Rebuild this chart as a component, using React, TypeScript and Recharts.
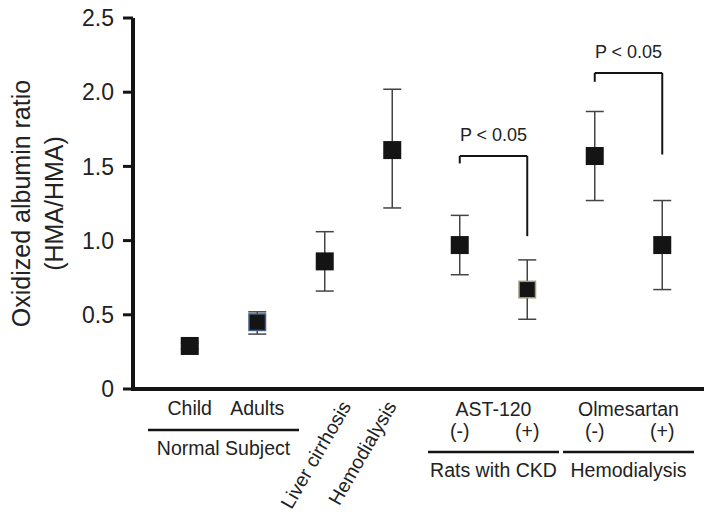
import React from "react";
import {
  ScatterChart,
  Scatter,
  XAxis,
  YAxis,
  ErrorBar,
  ReferenceLine,
} from "recharts";

// values (mean, lower / upper error)
const categories = [
  "Child",
  "Adults",
  "Liver cirrhosis",
  "Hemodialysis",
  "AST-120 (-)",
  "AST-120 (+)",
  "Olmesartan (-)",
  "Olmesartan (+)",
];
const tickLabels = [
  "Child",
  "Adults",
  "Liver cirrhosis",
  "Hemodialysis",
  "(-)",
  "(+)",
  "(-)",
  "(+)",
];
const means = [0.29, 0.45, 0.86, 1.61, 0.97, 0.67, 1.57, 0.97];
const errLow = [0.02, 0.08, 0.2, 0.39, 0.2, 0.2, 0.3, 0.3];
const errHigh = [0.02, 0.07, 0.2, 0.41, 0.2, 0.2, 0.3, 0.3];
const yTicks = [0, 0.5, 1, 1.5, 2, 2.5];

const groups = [
  { name: "Normal Subject", header: "", members: ["Child", "Adults"] },
  { name: "Rats with CKD", header: "AST-120", members: ["AST-120 (-)", "AST-120 (+)"] },
  { name: "Hemodialysis", header: "Olmesartan", members: ["Olmesartan (-)", "Olmesartan (+)"] },
];

// significance brackets, in data units
const brackets = [
  { from: "AST-120 (-)", to: "AST-120 (+)", top: 1.57, leftEnd: 1.52, rightEnd: 1.03, text: "P < 0.05" },
  { from: "Olmesartan (-)", to: "Olmesartan (+)", top: 2.13, leftEnd: 2.07, rightEnd: 1.58, text: "P < 0.05" },
];

const FONT = '"Liberation Sans", Arial, sans-serif';
const INK = "#141414";
const TEXT = "#222";
// slanted labels and their horizontal nudge
const slantShift: Record<string, number> = {
  "Liver cirrhosis": 27,
  Hemodialysis: 5,
};
const outline: Record<string, string> = {
  Adults: "#3f5f88",
  "AST-120 (+)": "#a39d80",
};

const data = categories.map((name, i) => ({
  name,
  value: means[i],
  err: [errLow[i], errHigh[i]],
}));

function Square(props: any) {
  const { cx, cy, payload } = props;
  if (cx == null || cy == null) return null;
  const edge = outline[payload?.name];
  if (edge) {
    return (
      <rect x={cx - 8.25} y={cy - 8.25} width={16.5} height={16.5} fill={INK} stroke={edge} strokeWidth={1.5} />
    );
  }
  return <rect x={cx - 9} y={cy - 9} width={18} height={18} fill={INK} />;
}

function CategoryTick(props: any) {
  const { x, y, payload } = props;
  const i = categories.indexOf(payload.value);
  if (i < 0) return null;
  const step = payload.offset ? payload.offset * 2 : 67.6;
  const cat = categories[i];
  const group = groups.find((g) => g.members.includes(cat));
  const txt = { fontFamily: FONT, fontSize: 19.5, fill: TEXT };

  if (cat in slantShift) {
    const ax = x + slantShift[cat];
    const ay = y + 17;
    return (
      <text {...txt} x={ax} y={ay} textAnchor="end" transform={`rotate(-60 ${ax} ${ay})`}>
        {tickLabels[i]}
      </text>
    );
  }

  const hasHeader = !!group?.header;
  const subY = hasHeader ? y + 49 : y + 26;
  const parts = [
    <text key="sub" {...txt} x={x} y={subY} textAnchor="middle">
      {tickLabels[i]}
    </text>,
  ];
  if (group && group.members[0] === cat) {
    const mid = x + step / 2;
    const half = hasHeader ? step - 2 : step + 8;
    const lineY = hasHeader ? y + 63 : y + 41;
    const nameY = hasHeader ? y + 88 : y + 66;
    if (hasHeader) {
      parts.push(
        <text key="hdr" {...txt} x={mid} y={y + 27} textAnchor="middle">
          {group.header}
        </text>
      );
    }
    parts.push(
      <line key="ln" x1={mid - half} x2={mid + half} y1={lineY} y2={lineY} stroke={INK} strokeWidth={2.5} />,
      <text key="nm" {...txt} x={mid} y={nameY} textAnchor="middle">
        {group.name}
      </text>
    );
  }
  return <g>{parts}</g>;
}

// tick mark + number; x is the axis line position (tickSize/tickMargin = 0)
function ValueTick(props: any) {
  const { x, y, payload } = props;
  const v = Number(payload.value);
  return (
    <g>
      <line x1={x - 10} x2={x} y1={y} y2={y} stroke={INK} strokeWidth={3} />
      <text x={x - 19} y={y} dy="0.36em" textAnchor="end" fontFamily={FONT} fontSize={23} fill={TEXT}>
        {v === 0 ? "0" : v.toFixed(1)}
      </text>
    </g>
  );
}

// axis title, plus the heavy vertical axis line along the right edge of the axis box
function YTitle(props: any) {
  const vb = props.viewBox || { x: 0, y: 18, width: 133, height: 371 };
  const cy = vb.y + vb.height / 2;
  const ax = vb.x + vb.width;
  const style = { fontFamily: FONT, fontSize: 25, fill: TEXT };
  return (
    <g>
      <line x1={ax} x2={ax} y1={vb.y} y2={vb.y + vb.height + 2} stroke={INK} strokeWidth={4} />
      <text {...style} x={vb.x + 21} y={cy} textAnchor="middle" dominantBaseline="central" transform={`rotate(-90 ${vb.x + 21} ${cy})`}>
        Oxidized albumin ratio
      </text>
      <text {...style} x={vb.x + 54} y={cy} textAnchor="middle" dominantBaseline="central" transform={`rotate(-90 ${vb.x + 54} ${cy})`}>
        (HMA/HMA)
      </text>
    </g>
  );
}

export default function App() {
  return (
    <div style={{ width: 704, height: 512, background: "#fff" }}>
      <style>{"body { margin: 0; }"}</style>
      <ScatterChart width={704} height={512} margin={{ top: 18, right: 0, bottom: 0, left: 0 }}>
        <XAxis
          dataKey="name"
          type="category"
          allowDuplicatedCategory={false}
          padding={{ left: 23, right: 8 }}
          height={123}
          tickLine={false}
          tickSize={0}
          tickMargin={0}
          interval={0}
          axisLine={false}
          tick={<CategoryTick />}
        />
        <YAxis
          dataKey="value"
          type="number"
          domain={[0, 2.5]}
          ticks={yTicks}
          interval={0}
          width={133}
          tickSize={0}
          tickMargin={0}
          tickLine={false}
          axisLine={false}
          tick={<ValueTick />}
          label={{ content: <YTitle /> }}
        />
        <ReferenceLine y={0} stroke={INK} strokeWidth={4} ifOverflow="visible" />
        {brackets.map((b) => (
          <ReferenceLine
            key={b.from + "h"}
            segment={[
              { x: b.from, y: b.top },
              { x: b.to, y: b.top },
            ]}
            stroke={INK}
            strokeWidth={2}
            ifOverflow="visible"
            label={{ value: b.text, position: "top", offset: 15, fill: TEXT, fontSize: 18, fontFamily: FONT }}
          />
        ))}
        {brackets.map((b) => (
          <ReferenceLine
            key={b.from + "l"}
            segment={[
              { x: b.from, y: b.top },
              { x: b.from, y: b.leftEnd },
            ]}
            stroke={INK}
            strokeWidth={2}
            ifOverflow="visible"
          />
        ))}
        {brackets.map((b) => (
          <ReferenceLine
            key={b.from + "r"}
            segment={[
              { x: b.to, y: b.top },
              { x: b.to, y: b.rightEnd },
            ]}
            stroke={INK}
            strokeWidth={2}
            ifOverflow="visible"
          />
        ))}
        <Scatter data={data} dataKey="value" shape={<Square />} isAnimationActive={false}>
          <ErrorBar dataKey="err" direction="y" width={9} stroke="#444" strokeWidth={1.5} />
        </Scatter>
      </ScatterChart>
    </div>
  );
}
